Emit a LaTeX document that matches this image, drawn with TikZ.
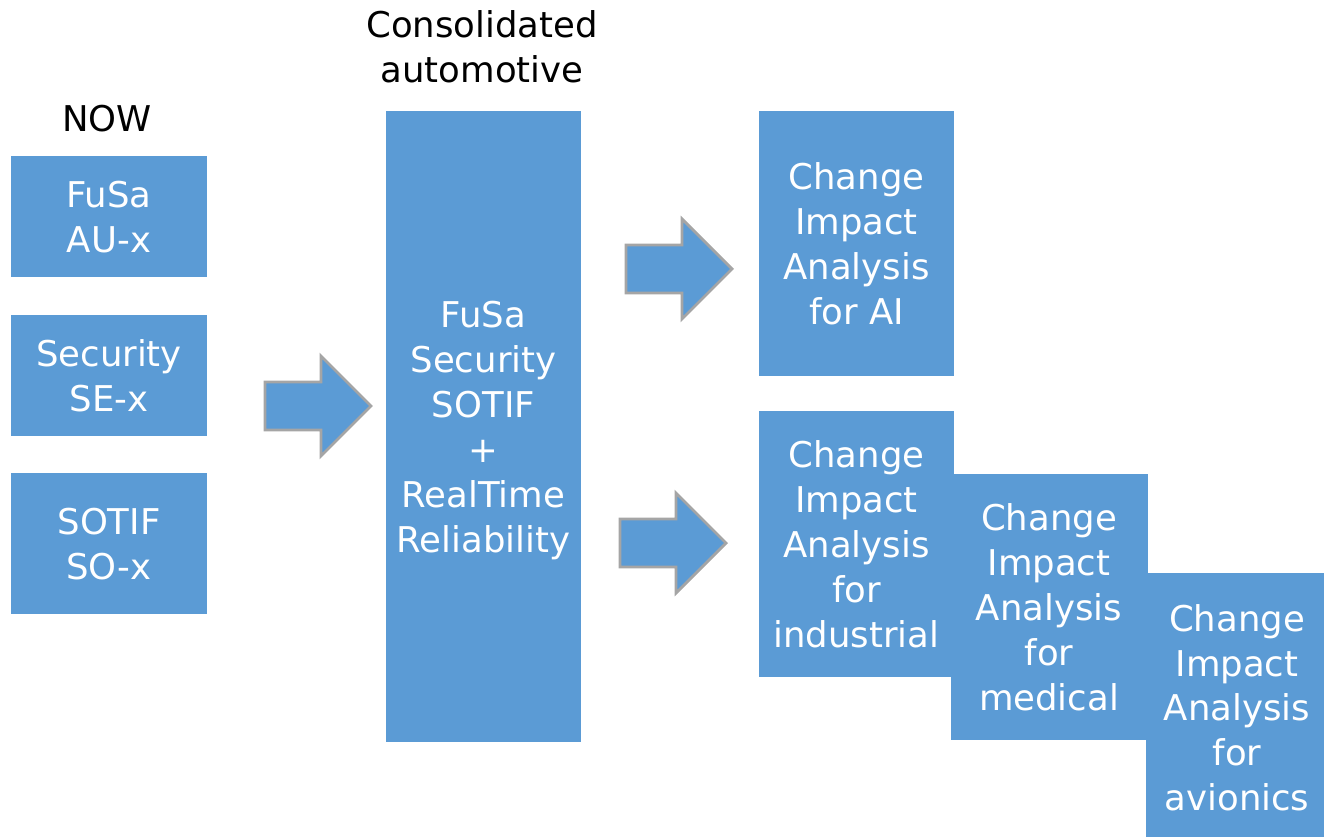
\documentclass[tikz,border=0pt]{standalone}
\usepackage{fontspec}
\setmainfont{DejaVu Sans}
\usepackage{tikz}
\usetikzlibrary{positioning}

\definecolor{boxblue}{HTML}{5B9BD5}
\definecolor{arrowgray}{HTML}{A5A5A5}

\tikzset{
  block/.style={fill=boxblue,text=white,inner sep=0pt,align=center,text depth=-0.1cm,
                font=\fontsize{20.2}{25.6}\selectfont},
  label/.style={text=black,align=center,inner sep=0pt,
                font=\fontsize{20.2}{25.6}\selectfont},
  fatarrow/.pic={
    \draw[fill=boxblue,draw=arrowgray,line width=1.6pt,line join=miter]
      (0,-24) -- (56,-24) -- (56,-50) -- (106,0) -- (56,50) -- (56,24) -- (0,24) -- cycle;
  }
}

\begin{document}
\begin{tikzpicture}[x=0.02cm,y=-0.02cm]
            \useasboundingbox (0,0) rectangle (1324,837);
            % today's separate standards
            \node[block,minimum width=3.92cm,minimum height=2.42cm](fusa) at (109,216.5){FuSa\\AU-x};
            \node[block,minimum width=3.92cm,minimum height=2.42cm](sec) at (109,375.5){Security\\SE-x};
            \node[block,minimum width=3.92cm,minimum height=2.82cm](sotif) at (109,543.5){SOTIF\\SO-x};
            \node[label](now) at (107,119){NOW};
            % consolidated block
            \node[block,minimum width=3.9cm,minimum height=12.62cm](cons) at (483.5,426.5)
                {FuSa\\Security\\SOTIF\\+\\RealTime\\Reliability};
            \node[label](constitle) at (482,47){Consolidated\\automotive};
            % change impact analysis blocks
            \node[block,minimum width=3.9cm,minimum height=5.3cm](ai) at (856.5,243.5)
                {Change\\Impact\\Analysis\\for AI};
            \node[block,minimum width=3.94cm,minimum height=5.32cm](med) at (1049,607)
                {Change\\Impact\\Analysis\\for\\medical};
            \node[block,minimum width=3.64cm,minimum height=5.4cm](avi) at (1237,707.5)
                {Change\\Impact\\Analysis\\for\\avionics};
            \node[block,minimum width=3.9cm,minimum height=5.32cm](ind) at (856.5,544)
                {Change\\Impact\\Analysis\\for\\industrial};
            % block arrows
            \pic at (265,406) {fatarrow};
            \pic at (626,269) {fatarrow};
            \pic at (620,543) {fatarrow};
        \end{tikzpicture}
\end{document}
